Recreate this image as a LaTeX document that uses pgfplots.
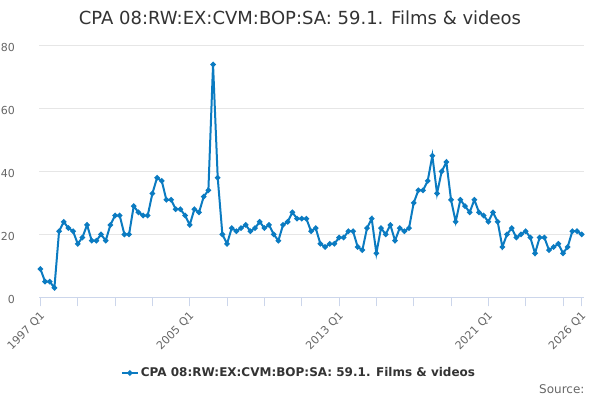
\documentclass[border=0pt]{standalone}
\usepackage{pgfplots}
\pgfplotsset{compat=1.18}
\usepackage{fontspec}
\setmainfont{DejaVu Sans}

\definecolor{series}{HTML}{0B7BC1}
\definecolor{textdark}{HTML}{333333}
\definecolor{ticktext}{HTML}{666666}
\definecolor{axisline}{HTML}{CCD6EB}
\definecolor{gridgray}{HTML}{E6E6E6}

\begin{document}
\begin{tikzpicture}[x=1pt,y=1pt]
\useasboundingbox (0,0) rectangle (600,400);

% title and source
\node[anchor=base, font=\fontsize{18}{22}\selectfont, text=textdark]
  at (300,375) {CPA 08:RW:EX:CVM:BOP:SA: 59.1. Films \& videos};
\node[anchor=base east, font=\fontsize{12}{14}\selectfont, text=ticktext]
  at (588,6.6) {Source:};

\begin{axis}[
  at={(39pt,102.7pt)}, anchor=south west,
  scale only axis, width=545pt, height=251.7pt,
  xmin=-0.3, xmax=116.5, ymin=0, ymax=80,
  clip=false,
  separate axis lines,
  axis x line*=bottom, axis y line*=left,
  x axis line style={draw=axisline, line width=1pt, -},
  y axis line style={draw=none},
  ymajorgrids, grid style={draw=gridgray, line width=1pt},
  ytick={0,20,40,60,80},
  ytick style={draw=none},
  xtick={0,8,16,24,32,40,48,56,64,72,80,88,96,104,112,116},
  xticklabels={},
  extra x ticks={0,32,64,96,116},
  extra x tick labels={1997 Q1,2005 Q1,2013 Q1,2021 Q1,2026 Q1},
  xtick style={draw=axisline, line width=1pt},
  extra x tick style={tick style={draw=axisline, line width=1pt}},
  tick align=outside, major tick length=9pt,
  /pgf/number format/assume math mode=true,
  ticklabel style={font=\fontsize{11}{13}\selectfont, text=ticktext, inner sep=0pt},
  yticklabel style={anchor=east, xshift=-15pt, yshift=-2pt},
  xticklabel style={xshift=2.5pt, yshift=-8pt, rotate=45, anchor=east},
  legend style={at={(0.477,-0.3008)}, anchor=center, draw=none, fill=none,
    font=\bfseries\fontsize{12}{14}\selectfont, text=textdark},
  legend image code/.code={
    \draw[#1, mark repeat=2, mark phase=2] plot coordinates {(0pt,0pt) (8pt,0pt) (16pt,0pt)};},
]
\addplot[color=series, line width=2pt, mark=*, mark size=1.6pt] coordinates {
(0,9) (1,5) (2,5) (3,3) (4,21) (5,24) (6,22) (7,21) (8,17) (9,19)
(10,23) (11,18) (12,18) (13,20) (14,18) (15,23) (16,26) (17,26) (18,20) (19,20)
(20,29) (21,27) (22,26) (23,26) (24,33) (25,38) (26,37) (27,31) (28,31) (29,28)
(30,28) (31,26) (32,23) (33,28) (34,27) (35,32) (36,34) (37,74) (38,38) (39,20)
(40,17) (41,22) (42,21) (43,22) (44,23) (45,21) (46,22) (47,24) (48,22) (49,23)
(50,20) (51,18) (52,23) (53,24) (54,27) (55,25) (56,25) (57,25) (58,21) (59,22)
(60,17) (61,16) (62,17) (63,17) (64,19) (65,19) (66,21) (67,21) (68,16) (69,15)
(70,22) (71,25) (72,14) (73,22) (74,20) (75,23) (76,18) (77,22) (78,21) (79,22)
(80,30) (81,34) (82,34) (83,37) (84,45) (85,33) (86,40) (87,43) (88,31) (89,24)
(90,31) (91,29) (92,27) (93,31) (94,27) (95,26) (96,24) (97,27) (98,24) (99,16)
(100,20) (101,22) (102,19) (103,20) (104,21) (105,19) (106,14) (107,19) (108,19) (109,15)
(110,16) (111,17) (112,14) (113,16) (114,21) (115,21) (116,20)
};
\addlegendentry{CPA 08:RW:EX:CVM:BOP:SA: 59.1. Films \& videos}
\end{axis}
\end{tikzpicture}
\end{document}
